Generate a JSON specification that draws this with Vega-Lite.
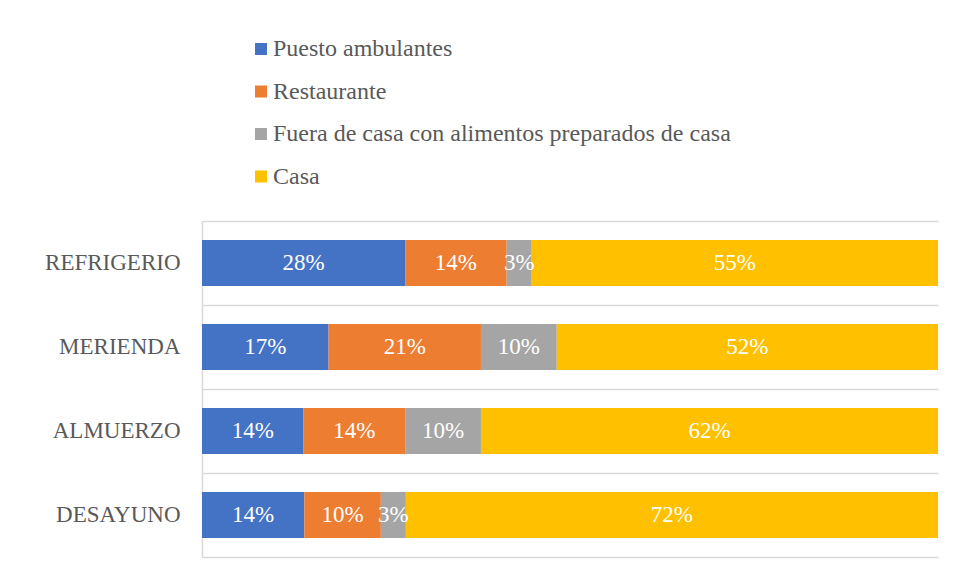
{
  "$schema": "https://vega.github.io/schema/vega-lite/v6.json",
  "width": 736,
  "height": 336,
  "autosize": {"type": "none"},
  "padding": {"left": 202, "top": 221, "right": 17, "bottom": 23},
  "background": "white",
  "config": {
    "view": {"stroke": null},
    "font": "Liberation Serif",
    "style": {"guide-label": {"font": "Liberation Serif", "fontSize": 24, "fill": "#595959"}},
    "legend": {"labelFont": "Liberation Serif", "labelFontSize": 24, "labelColor": "#595959"}
  },
  "data": {
    "values": [
      {"meal": "REFRIGERIO", "cat": "Puesto ambulantes", "order": 1, "v": 27.6},
      {"meal": "REFRIGERIO", "cat": "Restaurante", "order": 2, "v": 13.8},
      {"meal": "REFRIGERIO", "cat": "Fuera de casa con alimentos preparados de casa", "order": 3, "v": 3.4},
      {"meal": "REFRIGERIO", "cat": "Casa", "order": 4, "v": 55.2},
      {"meal": "MERIENDA", "cat": "Puesto ambulantes", "order": 1, "v": 17.2},
      {"meal": "MERIENDA", "cat": "Restaurante", "order": 2, "v": 20.7},
      {"meal": "MERIENDA", "cat": "Fuera de casa con alimentos preparados de casa", "order": 3, "v": 10.3},
      {"meal": "MERIENDA", "cat": "Casa", "order": 4, "v": 51.8},
      {"meal": "ALMUERZO", "cat": "Puesto ambulantes", "order": 1, "v": 13.8},
      {"meal": "ALMUERZO", "cat": "Restaurante", "order": 2, "v": 13.8},
      {"meal": "ALMUERZO", "cat": "Fuera de casa con alimentos preparados de casa", "order": 3, "v": 10.3},
      {"meal": "ALMUERZO", "cat": "Casa", "order": 4, "v": 62.1},
      {"meal": "DESAYUNO", "cat": "Puesto ambulantes", "order": 1, "v": 13.9},
      {"meal": "DESAYUNO", "cat": "Restaurante", "order": 2, "v": 10.4},
      {"meal": "DESAYUNO", "cat": "Fuera de casa con alimentos preparados de casa", "order": 3, "v": 3.4},
      {"meal": "DESAYUNO", "cat": "Casa", "order": 4, "v": 72.3}
    ]
  },
  "transform": [
    {"stack": "v", "groupby": ["meal"], "sort": [{"field": "order", "order": "ascending"}], "as": ["v0", "v1"], "offset": "normalize"},
    {"calculate": "(datum.v0 + datum.v1) / 2", "as": "mid"},
    {"calculate": "format(datum.v / 100, '.0%')", "as": "label"}
  ],
  "encoding": {
    "y": {
      "field": "meal",
      "type": "nominal",
      "sort": ["REFRIGERIO", "MERIENDA", "ALMUERZO", "DESAYUNO"],
      "title": null,
      "scale": {"paddingInner": 0, "paddingOuter": 0},
      "axis": {
        "domainColor": "#d9d9d9",
        "domainWidth": 1.5,
        "ticks": false,
        "grid": true,
        "gridColor": "#d9d9d9",
        "gridWidth": 1.5,
        "gridOpacity": 1,
        "bandPosition": 0,
        "labelFont": "Liberation Serif",
        "labelFontSize": 23,
        "labelColor": "#595959",
        "labelPadding": 22
      }
    }
  },
  "layer": [
    {
      "mark": {"type": "bar", "height": {"band": 0.548}},
      "encoding": {
        "x": {
          "field": "v0",
          "type": "quantitative",
          "scale": {"domain": [0, 1]},
          "axis": {"orient": "bottom", "domain": true, "domainColor": "#d9d9d9", "domainWidth": 1.5, "labels": false, "ticks": false, "grid": false, "title": null}
        },
        "x2": {"field": "v1"},
        "color": {
          "field": "cat",
          "type": "nominal",
          "scale": {
            "domain": ["Puesto ambulantes", "Restaurante", "Fuera de casa con alimentos preparados de casa", "Casa"],
            "range": ["#4472C4", "#ED7D31", "#A5A5A5", "#FFC000"]
          },
          "legend": {
            "title": null,
            "orient": "none",
            "legendX": 47,
            "legendY": -184,
            "direction": "vertical",
            "symbolType": "square",
            "symbolSize": 144,
            "symbolStrokeWidth": 0,
            "labelFont": "Liberation Serif",
            "labelFontSize": 24,
            "labelColor": "#595959",
            "rowPadding": 18.5,
            "labelOffset": 0,
            "padding": 0,
            "labelLimit": 700
          }
        }
      }
    },
    {
      "mark": {"type": "text", "color": "white", "fontSize": 23, "font": "Liberation Serif", "baseline": "middle", "align": "center"},
      "encoding": {
        "x": {"field": "mid", "type": "quantitative"},
        "text": {"field": "label"}
      }
    }
  ]
}
